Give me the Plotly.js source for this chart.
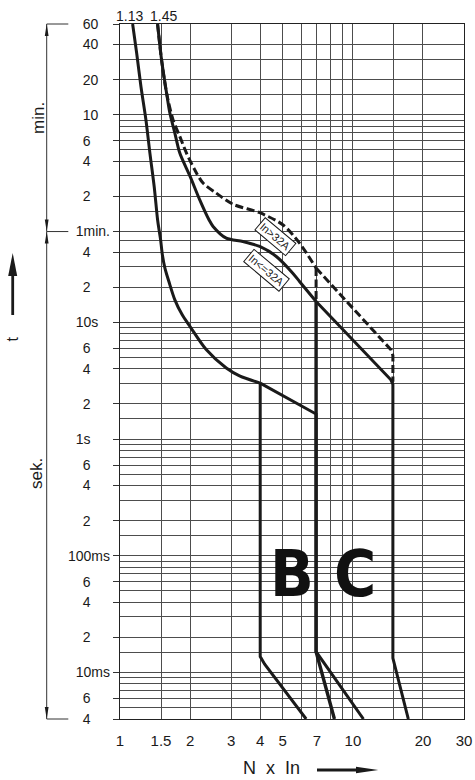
<!DOCTYPE html>
<html>
<head>
<meta charset="utf-8">
<script src="https://cdn.plot.ly/plotly-3.0.1.min.js"></script>
<style>
  html, body { margin: 0; padding: 0; background: #fff; }
  #chart { width: 475px; height: 780px; }
</style>
</head>
<body>
<div id="chart"></div>
<script>
// ---------------- DATA (t in seconds, x in multiples of In) ----------------
// lower thermal curve starting at 1.13 In
const curve113X = [1.133, 1.179, 1.23, 1.292, 1.344, 1.402, 1.45, 1.475, 1.494, 1.52, 1.56, 1.62, 1.72, 1.85, 2.0, 2.35, 2.86, 3.26, 4.0];
const curve113T = [3600, 2030, 1050, 545, 282, 146, 75.7, 60, 51, 38, 29, 22.5, 15.6, 11.6, 9.2, 5.82, 4.06, 3.48, 3.02];
// B lower magnetic boundary
const bLowerX = [4.0, 4.0, 4.18, 6.3];
const bLowerT = [3.02, 0.0137, 0.0118, 0.004];
// C lower boundary
const cLowerX = [4.0, 6.95, 6.95, 11.1];
const cLowerT = [3.02, 1.64, 0.0151, 0.004];
// upper thermal curve starting at 1.45 In (In <= 32A)
const curveSmallX = [1.45, 1.508, 1.585, 1.637, 1.72, 1.806, 2.0, 2.2, 2.41, 2.51, 2.86, 3.37, 3.98, 4.69, 5.52, 5.9, 6.95];
const curveSmallT = [3600, 1778, 922, 622, 419, 282, 178, 112, 75.7, 66.4, 52.7, 49.3, 44.7, 36.7, 26.4, 22.4, 15.1];
// B upper magnetic boundary
const bUpperX = [6.95, 6.95, 8.33];
const bUpperT = [15.1, 0.0151, 0.004];
// C upper boundary
const cUpperX = [6.95, 14.56, 14.85, 14.85, 17.3];
const cUpperT = [15.1, 3.22, 2.95, 0.0133, 0.004];
// upper thermal curve for In > 32A (dashed)
const curveLargeX = [1.45, 1.508, 1.585, 1.69, 1.806, 1.93, 2.094, 2.273, 2.59, 3.05, 3.98, 5.0, 5.9, 6.95];
const curveLargeT = [3600, 1778, 922, 543, 392, 282, 203, 156, 128, 103, 87, 68.6, 47.8, 29.2];
const largeDropX = [6.95, 6.95];
const largeDropT = [29.2, 15.1];
const largeCX = [6.95, 14.6, 14.85, 14.85];
const largeCT = [29.2, 5.8, 5.2, 3.1];

// axis ticks
const xTickVals = [1, 1.5, 2, 3, 4, 5, 7, 10, 20, 30];
const xTickText = ['1', '1.5', '2', '3', '4', '5', '7', '10', '20', '30'];
const xGridExtra = [6, 8, 9, 15];
const yTickVals = [3600, 2400, 1200, 600, 360, 240, 120, 60, 40, 20, 10, 6, 4, 2, 1, 0.6, 0.4, 0.2, 0.1, 0.06, 0.04, 0.02, 0.01, 0.006, 0.004];
const yTickText = ['60', '40', '20', '10', '6', '4', '2', '1min.', '4', '2', '10s', '6', '4', '2', '1s', '6', '4', '2', '100ms', '6', '4', '2', '10ms', '6', '4'];
const yGridExtra = [1800, 900, 540, 480, 420, 300, 180, 90,
  50, 30, 15, 9, 8, 7, 5, 3, 1.5,
  0.9, 0.8, 0.7, 0.5, 0.3, 0.15,
  0.09, 0.08, 0.07, 0.05, 0.03, 0.015,
  0.009, 0.008, 0.007, 0.005];
const xRange = [1, 30];
const yRange = [0.004, 3600];

// ---------------- LAYOUT HELPERS ----------------
const W = 475, H = 780;
const M = {l: 120, r: 11, t: 24, b: 61};
const PW = W - M.l - M.r, PH = H - M.t - M.b;
const px2x = p => (p - M.l) / PW;
const py2y = p => (H - M.b - p) / PH;
const lg = Math.log10;
const yPaper = v => (lg(v) - lg(yRange[0])) / (lg(yRange[1]) - lg(yRange[0]));
const yPx = v => H - M.b - yPaper(v) * PH;

const NB = '\u00a0';
const padLabel = s => {
  if (/^\d$/.test(s)) return s + NB.repeat(5);
  if (/^\d\d$/.test(s)) return s + NB.repeat(3);
  if (s === '10s') return s + NB.repeat(3);
  if (s === '1s') return s + NB.repeat(5);
  return s;
};

const INK = '#1a1a1a';
const GRID = '#4d4d4d';
const FONT = 'Liberation Sans, Arial, sans-serif';

function line(x, t, opts) {
  return {
    type: 'scatter', mode: 'lines', x: x, y: t, hoverinfo: 'skip',
    line: Object.assign({color: INK, width: 3}, opts || {})
  };
}
const SPL = {shape: 'spline', smoothing: 0.8};
const DASH = {dash: '8px,3.5px'};

const traces = [
  line(curve113X, curve113T, SPL),
  line(bLowerX, bLowerT),
  line(cLowerX, cLowerT),
  line(curveSmallX, curveSmallT, SPL),
  line(bUpperX, bUpperT, {width: 3.4}),
  line(cUpperX, cUpperT),
  line(curveLargeX, curveLargeT, Object.assign({}, SPL, DASH)),
  line(largeDropX, largeDropT, DASH),
  line(largeCX, largeCT, DASH)
];

// ---------------- DECORATIONS ----------------
function seg(x0p, y0p, x1p, y1p, w, c) {
  return {type: 'line', xref: 'paper', yref: 'paper', x0: px2x(x0p), y0: py2y(y0p), x1: px2x(x1p), y1: py2y(y1p),
    line: {color: c || '#333', width: w || 1}};
}
function tri(pts) {
  const d = 'M' + pts.map(p => px2x(p[0]).toFixed(5) + ',' + py2y(p[1]).toFixed(5)).join(' L') + ' Z';
  return {type: 'path', xref: 'paper', yref: 'paper', path: d, fillcolor: INK, line: {width: 0}};
}
const dX = 46.7;
const yTop = yPx(3600), y1m = yPx(60), yBot = yPx(0.004);
const shapes = [
  seg(dX, yTop, dX, y1m, 1),
  seg(dX, y1m, dX, yBot, 1),
  seg(dX, yTop, 68.3, yTop, 1),
  seg(dX, y1m, 68.3, y1m, 1),
  seg(dX, yBot, 68.3, yBot, 1),
  tri([[dX, yTop], [dX - 1.9, yTop + 12], [dX + 1.9, yTop + 12]]),
  tri([[dX, y1m], [dX - 1.9, y1m - 12], [dX + 1.9, y1m - 12]]),
  tri([[dX, y1m], [dX - 1.9, y1m + 12], [dX + 1.9, y1m + 12]]),
  tri([[dX, yBot], [dX - 1.9, yBot - 12], [dX + 1.9, yBot - 12]]),
  // t arrow
  seg(12.7, 315, 12.7, 272, 2.8, INK),
  tri([[12.7, 253], [8.2, 276], [17.2, 276]]),
  // N x In arrow
  seg(317, 770, 358, 770, 2.8, INK),
  tri([[378.3, 770], [356, 766.8], [356, 773.2]])
];

const ann = [];
function txt(text, xp, yp, size, extra) {
  ann.push(Object.assign({text: text, xref: 'paper', yref: 'paper', x: px2x(xp), y: py2y(yp),
    showarrow: false, xanchor: 'center', yanchor: 'middle', font: {family: FONT, size: size, color: INK}}, extra || {}));
}
txt('1.13', 129.5, 15.7, 14);
txt('1.45', 163.3, 15.7, 14);
txt('min.', 38, 118, 17, {textangle: -90});
txt('sek.', 36, 474, 17, {textangle: -90});
txt('t', 12.5, 339, 16, {textangle: -90});
txt('N' + NB + NB + 'x' + NB + NB + 'In', 271, 768, 18);

function dataTxt(text, x, t, size, extra) {
  ann.push(Object.assign({text: text, xref: 'x', yref: 'y', x: lg(x), y: lg(t), showarrow: false,
    xanchor: 'center', yanchor: 'middle', font: {family: FONT, size: size, color: INK}}, extra || {}));
}
const boxStyle = {textangle: 40, bgcolor: '#fff', bordercolor: INK, borderwidth: 1, borderpad: 1.5};
dataTxt('In&gt;32A', 4.64, 54.5, 11, boxStyle);
dataTxt('In&lt;=32A', 4.27, 27.9, 11, boxStyle);
const bigFont = {family: 'DejaVu Sans Condensed, Liberation Sans Narrow, Arial Narrow, sans-serif', size: 64, color: '#111', weight: 'bold', stretch: 'condensed'};
dataTxt('B', 5.47, 0.0694, 64, {font: bigFont});
dataTxt('C', 10.24, 0.0694, 64, {font: bigFont});

const layout = {
  width: W, height: H,
  margin: M,
  paper_bgcolor: '#fff', plot_bgcolor: '#fff',
  showlegend: false,
  font: {family: FONT, color: INK},
  xaxis: {
    type: 'log', range: [lg(xRange[0]), lg(xRange[1])],
    tickmode: 'array', tickvals: xTickVals, ticktext: xTickText,
    ticks: '', ticklabelstandoff: 8,
    tickfont: {family: FONT, size: 15, color: INK},
    showgrid: true, gridcolor: GRID, gridwidth: 1,
    minor: {tickmode: 'array', tickvals: xGridExtra, showgrid: true, gridcolor: GRID, gridwidth: 1, ticks: ''},
    showline: true, mirror: true, linecolor: '#222', linewidth: 1.2,
    zeroline: false, fixedrange: true
  },
  yaxis: {
    type: 'log', range: [lg(yRange[0]), lg(yRange[1])],
    tickmode: 'array', tickvals: yTickVals, ticktext: yTickText.map(padLabel),
    ticks: 'outside', ticklen: 6, tickwidth: 1, tickcolor: '#333',
    tickfont: {family: FONT, size: 14, color: INK},
    showgrid: true, gridcolor: GRID, gridwidth: 1,
    minor: {tickmode: 'array', tickvals: yGridExtra, showgrid: true, gridcolor: GRID, gridwidth: 1, ticks: ''},
    showline: true, mirror: true, linecolor: '#222', linewidth: 1.2,
    zeroline: false, fixedrange: true
  },
  shapes: shapes,
  annotations: ann
};

Plotly.newPlot('chart', traces, layout, {displayModeBar: false, staticPlot: true});
</script>
</body>
</html>
